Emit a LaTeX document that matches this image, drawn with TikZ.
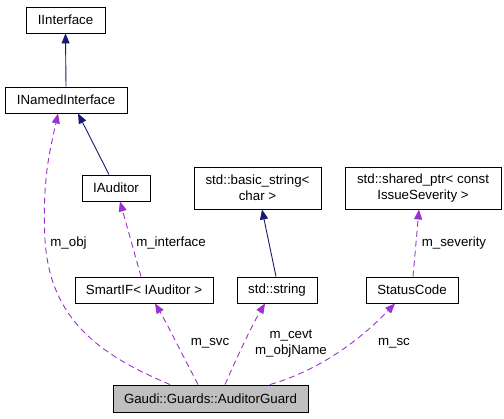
\documentclass[tikz,border=0pt]{standalone}
\usepackage{fontspec}
\setmainfont{Liberation Sans}
\usetikzlibrary{arrows.meta}
\definecolor{navyedge}{HTML}{191970}
\definecolor{purpedge}{HTML}{9A32CD}
\definecolor{guardfill}{HTML}{BFBFBF}
\tikzset{
  box/.style={draw=black, line width=0.9pt, fill=white, inner sep=0pt, minimum height=26pt, font=\fontsize{13.3}{16.5}\selectfont, align=center},
  inherit/.style={draw=navyedge, line width=0.9pt, -{Triangle[length=10pt,width=8pt]}},
  usage/.style={draw=purpedge, line width=0.9pt, dash pattern=on 6pt off 4pt, -{Triangle[length=10pt,width=8pt]}},
  lbl/.style={font=\fontsize{13.3}{16.5}\selectfont, align=center, inner sep=0pt}
}
\begin{document}
\begin{tikzpicture}[x=1pt,y=-1pt]
\useasboundingbox (0,0) rectangle (504,419);
\node[box, minimum width=79pt] (iif) at (65.5,20) {IInterface};
\node[box, minimum width=122pt] (inamed) at (66,100) {INamedInterface};
\node[box, minimum width=68pt] (iaud) at (116,188) {IAuditor};
\node[box, minimum width=138pt] (smart) at (144,290) {SmartIF< IAuditor >};
\node[box, minimum width=127pt, minimum height=42pt] (bstr) at (257.5,188) {std::basic\_string<\\char >};
\node[box, minimum width=156pt, minimum height=42pt] (sptr) at (423,188) {std::shared\_ptr< const\\IssueSeverity >};
\node[box, minimum width=80pt] (str) at (277,290) {std::string};
\node[box, minimum width=92pt] (sc) at (412,290) {StatusCode};
\node[box, minimum width=195pt, minimum height=27pt, fill=guardfill] (ag) at (210.5,398.5) {Gaudi::Guards::AuditorGuard};

% inheritance
\draw[inherit] (inamed.north) -- (iif.south);
\draw[inherit] (iaud.north -| 109,0) -- (inamed.south -| 78,0);
\draw[inherit] (str.north -| 276,0) -- (bstr.south -| 262,0);

% usage
\coordinate (objmid) at (45,240);
\draw[usage] (ag.north -| 170,0) .. controls (100,355) and (50,320) .. (objmid)
  .. controls (42,180) and (50,150) .. (inamed.south -| 58,0);
\draw[usage] (smart.north -| 141,0) -- (iaud.south -| 120,0);
\draw[usage] (ag.north -| 198,0) .. controls (180,350) and (165,320) .. (smart.south -| 155,0);
\draw[usage] (ag.north -| 225,0) .. controls (240,350) and (255,320) .. (str.south -| 265,0);
\draw[usage] (ag.north -| 270,0) .. controls (320,370) and (360,340) .. (sc.south -| 395,0);
\draw[usage] (sc.north -| 413,0) -- (sptr.south -| 419,0);

% labels
\node[lbl] (lobj) at (68.5,243) {m\_obj};
\node[lbl] (lint) at (171,243) {m\_interface};
\node[lbl] (lsev) at (454,243) {m\_severity};
\node[lbl] (lsvc) at (210,343) {m\_svc};
\node[lbl] (lcevt) at (291,343.5) {m\_cevt\\m\_objName};
\node[lbl] (lsc) at (394,343) {m\_sc};
\end{tikzpicture}
\end{document}
